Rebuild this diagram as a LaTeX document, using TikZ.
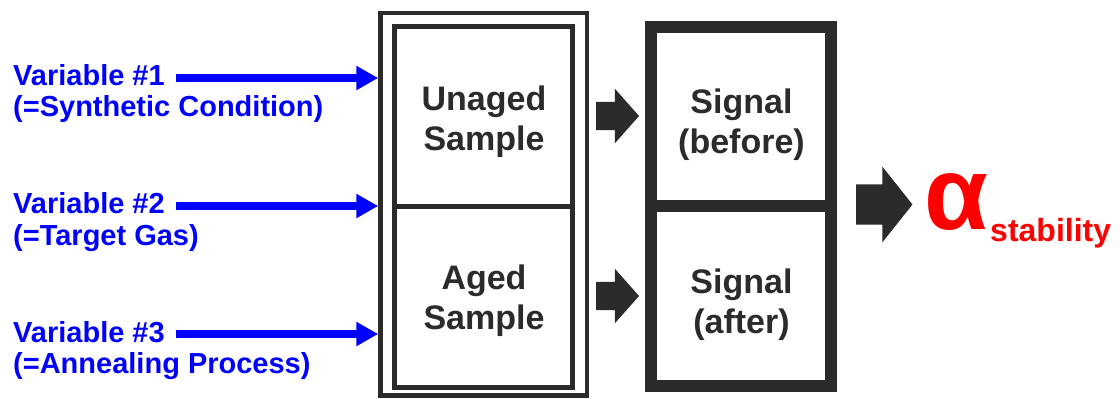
\documentclass[tikz,border=0pt]{standalone}
\usepackage{fontspec}
\setmainfont{Liberation Sans}
\usetikzlibrary{arrows.meta,shapes.arrows}
\definecolor{dk}{HTML}{2B2B2B}
\begin{document}
\begin{tikzpicture}[x=1pt,y=-1pt,
 vtext/.style={anchor=base west, inner sep=0, text=blue, font=\fontsize{29}{31}\selectfont\bfseries},
 varrow/.style={draw=blue, line width=8pt, -{Triangle[length=22pt,width=23pt]}},
 sbox/.style={draw=dk, line width=5pt, minimum width=177.5pt, minimum height=180pt, inner sep=0},
 gbox/.style={draw=dk, line width=12pt, minimum width=180pt, minimum height=180pt, inner sep=0},
 btext/.style={text=dk, align=center, font=\fontsize{34}{40}\selectfont\bfseries, inner sep=0},
 barrow/.style={single arrow, fill=dk, inner sep=14pt, minimum height=43pt, single arrow head extend=13pt, single arrow tip angle=97, outer sep=0, anchor=tail}
]
\useasboundingbox[fill=white] (0,0) rectangle (1120,399);

% left texts
\node[vtext] (v1) at (13,85) {Variable \#1};
\node[vtext] (v1b) at (13,116) {(=Synthetic Condition)};
\node[vtext] (v2) at (13,213) {Variable \#2};
\node[vtext] (v2b) at (13,245) {(=Target Gas)};
\node[vtext] (v3) at (13,342) {Variable \#3};
\node[vtext] (v3b) at (13,373) {(=Annealing Process)};

% sample boxes
\node[draw=dk, line width=4.5pt, minimum width=206.5pt, minimum height=382.5pt, inner sep=0] (outer) at (483.75,204.25) {};
\node[sbox] (unaged) at (483.25,116) {};
\node[sbox, minimum height=181pt] (aged) at (483.25,296.5) {};
\node[btext] (tu) at (484,121.5) {Unaged\\Sample};
\node[btext] (ta) at (484,300.5) {Aged\\Sample};

% signal boxes
\node[gbox, minimum height=179pt] (before) at (741,116.5) {};
\node[gbox] (after) at (741,296) {};
\node[btext] (tb) at (741.5,124.5) {Signal\\(before)};
\node[btext] (taf) at (741.5,304.5) {Signal\\(after)};

% blue arrows
\coordinate (s1) at (176,78);
\coordinate (s2) at (176,206);
\coordinate (s3) at (176,334);
\draw[varrow] (s1) -- (s1 -| outer.west);
\draw[varrow] (s2) -- (s2 -| outer.west);
\draw[varrow] (s3) -- (s3 -| outer.west);

% block arrows
\node[barrow] (a1) at (596,116) {};
\node[barrow] (a2) at (596,296) {};
\node[barrow, inner sep=20pt, minimum height=53pt, single arrow head extend=17.5pt, single arrow tip angle=103] (a3) at (856,204.5) {};

% result
\node[anchor=base west, inner sep=0, text=red, font=\fontsize{104}{104}\selectfont\bfseries] (alpha) at (924,229) {α};
\node[anchor=base west, inner sep=0, text=red, font=\fontsize{32}{36}\selectfont\bfseries] (stab) at (990,241) {stability};
\end{tikzpicture}
\end{document}
